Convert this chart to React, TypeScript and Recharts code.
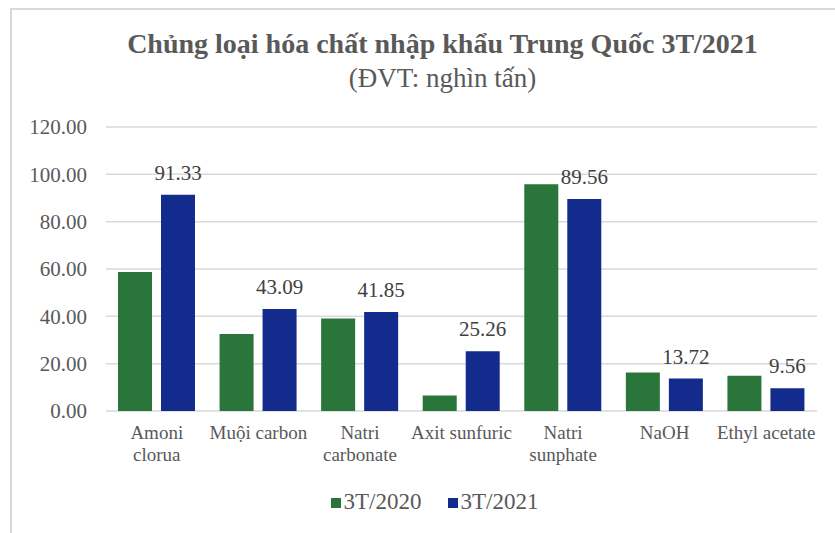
import React from 'react';
import { BarChart, Bar, XAxis, YAxis, CartesianGrid, LabelList } from 'recharts';

const categories = [
  'Amoni\nclorua',
  'Muội carbon',
  'Natri\ncarbonate',
  'Axit sunfuric',
  'Natri\nsunphate',
  'NaOH',
  'Ethyl acetate',
];
const values2020 = [58.7, 32.5, 39.1, 6.6, 95.8, 16.3, 14.9];
const values2021 = [91.33, 43.09, 41.85, 25.26, 89.56, 13.72, 9.56];
const seriesNames = ['3T/2020', '3T/2021'];
const seriesColors = ['#2A7539', '#122B8C'];
const yTicks = [0, 20, 40, 60, 80, 100, 120];

const FONT = '"Liberation Serif", "Times New Roman", serif';

const data = categories.map((name, i) => ({
  name,
  y2020: values2020[i],
  y2021: values2021[i],
}));

const CategoryTick: React.FC<any> = ({ x, y, payload }) => {
  const lines = String(payload.value).split('\n');
  return (
    <text x={x} y={y} textAnchor="middle" fill="#595959" fontSize={19} fontFamily={FONT}>
      {lines.map((l, i) => (
        <tspan key={i} x={x} dy={i === 0 ? 28 : 22}>
          {l}
        </tspan>
      ))}
    </text>
  );
};

export default function App() {
  return (
    <div
      style={{
        position: 'fixed',
        left: 0,
        top: 0,
        width: 835,
        height: 533,
        overflow: 'hidden',
        background: '#fff',
        fontFamily: FONT,
      }}
    >
      <div
        style={{
          position: 'absolute',
          left: 10,
          top: 8,
          width: 900,
          height: 600,
          borderLeft: '2px solid #d9d9d9',
          borderTop: '2px solid #d9d9d9',
        }}
      />
      <div
        style={{
          position: 'absolute',
          left: 0,
          width: 885,
          top: 26,
          textAlign: 'center',
          color: '#595959',
        }}
      >
        <div style={{ fontSize: 28, fontWeight: 'bold', lineHeight: '36px' }}>
          Chủng loại hóa chất nhập khẩu Trung Quốc 3T/2021
        </div>
        <div style={{ fontSize: 27, lineHeight: '32px' }}>(ĐVT: nghìn tấn)</div>
      </div>
      <div style={{ position: 'absolute', left: 0, top: 0 }}>
        <BarChart
          width={835}
          height={533}
          data={data}
          margin={{ top: 127, right: 18, left: 0, bottom: 62 }}
          barCategoryGap={12}
          barGap={9}
        >
          <CartesianGrid vertical={false} stroke="#d9d9d9" strokeWidth={1.5} />
          <XAxis
            dataKey="name"
            axisLine={false}
            tickLine={false}
            tickSize={0}
            tickMargin={0}
            height={60}
            interval={0}
            tick={<CategoryTick />}
          />
          <YAxis
            width={106}
            domain={[0, 120]}
            ticks={yTicks}
            axisLine={false}
            tickLine={false}
            tickSize={0}
            tickMargin={19}
            tickFormatter={(v) => Number(v).toFixed(2)}
            tick={{ fill: '#595959', fontSize: 21, fontFamily: FONT }}
          />
          <Bar dataKey="y2020" fill={seriesColors[0]} isAnimationActive={false} />
          <Bar dataKey="y2021" fill={seriesColors[1]} isAnimationActive={false}>
            <LabelList
              dataKey="y2021"
              position="top"
              offset={15}
              formatter={(v: any) => Number(v).toFixed(2)}
              style={{ fill: '#404040', fontSize: 21, fontFamily: FONT }}
            />
          </Bar>
        </BarChart>
      </div>
      <div
        style={{
          position: 'absolute',
          left: 0,
          width: 869,
          top: 489,
          display: 'flex',
          justifyContent: 'center',
          gap: 26,
          fontSize: 23,
          color: '#595959',
        }}
      >
        {seriesNames.map((n, i) => (
          <div key={n} style={{ display: 'flex', alignItems: 'center' }}>
            <span
              style={{
                display: 'inline-block',
                width: 10,
                height: 10,
                background: seriesColors[i],
                marginRight: 3,
                marginTop: 2,
              }}
            />
            <span>{n}</span>
          </div>
        ))}
      </div>
    </div>
  );
}
